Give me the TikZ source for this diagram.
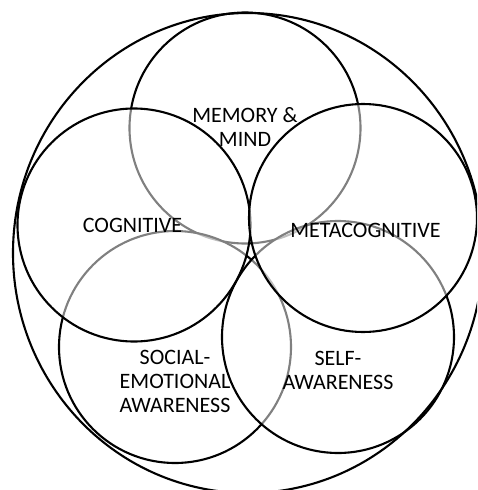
\documentclass[tikz,border=0pt]{standalone}
\usepackage{fontspec}
\setmainfont{Carlito}
\begin{document}
\begin{tikzpicture}[x=1pt,y=-1pt,
        ring/.style={draw,line width=2.1pt,fill=white,fill opacity=0.5},
        lbl/.style={align=center,font=\fontsize{22}{24}\selectfont}]
        \clip(0,0)rectangle(477,490);
        \fill[white](0,0)rectangle(477,490);
        % circles, lowest first
        \draw[ring](245,128)circle(115.5pt);
        \draw[ring](175,347)circle(116pt);
        \draw[ring](338,337)circle(116pt);
        \draw[ring](134,225)circle(116.5pt);
        \draw[ring](363,218)circle(114pt);
        \draw[line width=2.1pt](248,253)ellipse[x radius=235pt,y radius=240pt];
        % labels
        \node[lbl](mem)at(245,127){MEMORY \&\\MIND};
        \node[lbl](cog)at(132.5,225){COGNITIVE};
        \node[lbl](meta)at(365.5,230){METACOGNITIVE};
        \node[lbl](soc)at(175,381){SOCIAL-\\EMOTIONAL\\AWARENESS};
        \node[lbl](self)at(338,370){SELF-\\AWARENESS};
\end{tikzpicture}
\end{document}
